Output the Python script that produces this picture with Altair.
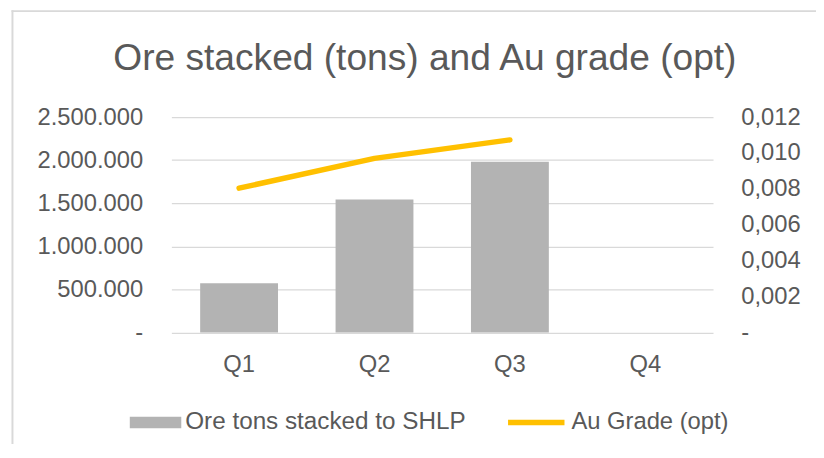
import altair as alt
import pandas as pd

# ---- data ----
quarters = ["Q1", "Q2", "Q3", "Q4"]
ore_tons = [570000, 1543000, 1980000, None]
au_grade = [0.00804, 0.0097, 0.01073, None]
bar_label = "Ore tons stacked to SHLP"
line_label = "Au Grade (opt)"
left_ticks = [0, 500000, 1000000, 1500000, 2000000, 2500000]
right_ticks = [0, 0.002, 0.004, 0.006, 0.008, 0.010, 0.012]
title_text = "Ore stacked (tons) and Au grade (opt)"

df = pd.DataFrame({"quarter": quarters, "ore": ore_tons, "grade": au_grade})
df["bar_series"] = bar_label
df["line_series"] = line_label

FONT = "Liberation Sans"
TEXT = "#595959"
GRID = "#d9d9d9"
BAR = "#b3b3b3"
GOLD = "#ffc000"

x_enc = alt.X(
    "quarter:N",
    sort=quarters,
    scale=alt.Scale(domain=quarters, paddingInner=0.425, paddingOuter=0.2125),
    axis=alt.Axis(
        title=None, labelAngle=0, ticks=False, tickSize=0, labelPadding=20,
        domain=False, grid=False,
        labelFontSize=24, labelColor=TEXT, labelFont=FONT,
    ),
)

left_expr = ("datum.value == 0 ? '-\u00a0\u00a0' : "
             "replace(format(datum.value, ',.0f'), regexp(',', 'g'), '.')")
right_expr = "datum.value == 0 ? '-' : replace(format(datum.value, '.3f'), '.', ',')"

# chart-area frame (Excel chart border): only its top and left edges are in view
frame_src = pd.DataFrame({"k": [0]})
frame_top = alt.Chart(frame_src).mark_rule(color=GRID, strokeWidth=2).encode(
    x=alt.value(-161.5), x2=alt.value(700), y=alt.value(-107),
)
frame_left = alt.Chart(frame_src).mark_rule(color=GRID, strokeWidth=2).encode(
    x=alt.value(-160.5), y=alt.value(-108), y2=alt.value(400),
)

bars = alt.Chart(df).mark_bar().encode(
    x=x_enc,
    y=alt.Y(
        "ore:Q",
        scale=alt.Scale(domain=[0, 2500000], nice=False),
        axis=alt.Axis(
            title=None, orient="left", values=left_ticks, labelExpr=left_expr,
            ticks=False, tickSize=0, domain=False, grid=True,
            gridColor=GRID, gridWidth=1.3, labelPadding=29,
            labelFontSize=24, labelColor=TEXT, labelFont=FONT,
        ),
    ),
    fill=alt.Fill(
        "bar_series:N",
        scale=alt.Scale(domain=[bar_label], range=[BAR]),
        legend=alt.Legend(
            title=None, orient="none", legendX=-42, legendY=282.5,
            symbolType="M-1,-0.225L1,-0.225L1,0.225L-1,0.225Z",
            symbolSize=2704, symbolStrokeWidth=0, symbolOpacity=1,
            labelFontSize=24.5, labelFont=FONT, labelColor=TEXT,
            labelOffset=4, padding=0, labelLimit=500,
        ),
    ),
)

line = alt.Chart(df).mark_line(strokeWidth=5.5, strokeCap="round", strokeJoin="round").encode(
    x=x_enc,
    y=alt.Y(
        "grade:Q",
        scale=alt.Scale(domain=[0, 0.012], nice=False),
        axis=alt.Axis(
            title=None, orient="right", values=right_ticks, labelExpr=right_expr,
            ticks=False, tickSize=0, domain=False, grid=False, labelPadding=28,
            labelFontSize=24, labelColor=TEXT, labelFont=FONT,
        ),
    ),
    stroke=alt.Stroke(
        "line_series:N",
        scale=alt.Scale(domain=[line_label], range=[GOLD]),
        legend=alt.Legend(
            title=None, orient="none", legendX=337, legendY=277,
            symbolType="stroke", symbolSize=3249, symbolStrokeWidth=5.7,
            symbolOpacity=1,
            labelFontSize=24, labelFont=FONT, labelColor=TEXT,
            labelOffset=4, padding=0, labelLimit=500,
        ),
    ),
)

chart = alt.layer(frame_top, frame_left, bars, line).resolve_scale(
    y="independent", fill="independent", stroke="independent"
).properties(
    width=547,
    height=217.5,
    padding={"left": 165, "top": 108, "right": 104, "bottom": 110},
    autosize=alt.AutoSizeParams(type="none"),
    background="white",
    title=alt.TitleParams(
        text=title_text, fontSize=37.5, font=FONT, color=TEXT,
        fontWeight="normal", anchor="middle", dx=-17.5,
        baseline="alphabetic", offset=0, dy=99,
    ),
).configure_view(stroke="transparent", strokeWidth=0, strokeOpacity=0)

chart.save("out.html", embed_options={"renderer": "svg", "actions": False})
